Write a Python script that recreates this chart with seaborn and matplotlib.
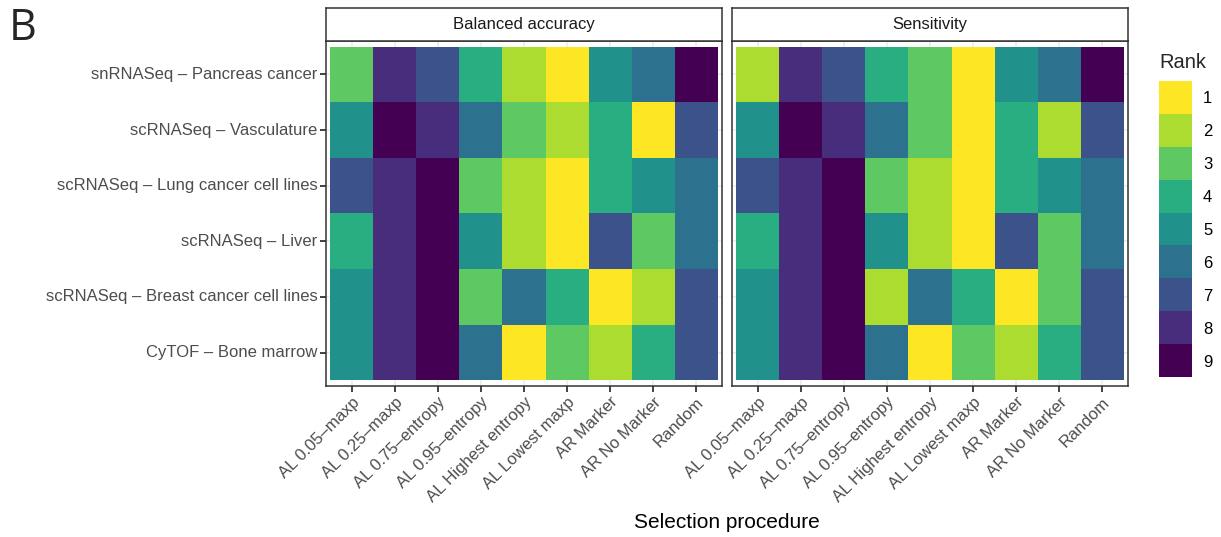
import numpy as np
import pandas as pd
import matplotlib
matplotlib.use("Agg")
import matplotlib.pyplot as plt
import seaborn as sns
from matplotlib.colors import ListedColormap

sns.set_style("white")
plt.rcParams['font.family'] = ['Liberation Sans', 'DejaVu Sans']

datasets = ["snRNASeq – Pancreas cancer", "scRNASeq – Vasculature",
            "scRNASeq – Lung cancer cell lines", "scRNASeq – Liver",
            "scRNASeq – Breast cancer cell lines", "CyTOF – Bone marrow"]
methods = ["AL 0.05–maxp", "AL 0.25–maxp", "AL 0.75–entropy", "AL 0.95–entropy",
           "AL Highest entropy", "AL Lowest maxp", "AR Marker", "AR No Marker", "Random"]

# ranks, one row per dataset (top to bottom), one column per method
rank_bal = [[3, 8, 7, 4, 2, 1, 5, 6, 9],
            [5, 9, 8, 6, 3, 2, 4, 1, 7],
            [7, 8, 9, 3, 2, 1, 4, 5, 6],
            [4, 8, 9, 5, 2, 1, 7, 3, 6],
            [5, 8, 9, 3, 6, 4, 1, 2, 7],
            [5, 8, 9, 6, 1, 3, 2, 4, 7]]
rank_sens = [[2, 8, 7, 4, 3, 1, 5, 6, 9],
             [5, 9, 8, 6, 3, 1, 4, 2, 7],
             [7, 8, 9, 3, 2, 1, 4, 5, 6],
             [4, 8, 9, 5, 2, 1, 7, 3, 6],
             [5, 8, 9, 2, 6, 4, 1, 3, 7],
             [5, 8, 9, 6, 1, 3, 2, 4, 7]]
metrics = ["Balanced accuracy", "Sensitivity"]
ranks = [1, 2, 3, 4, 5, 6, 7, 8, 9]

rows = []
for metric, mat in zip(metrics, [rank_bal, rank_sens]):
    for i, d in enumerate(datasets):
        for j, m in enumerate(methods):
            rows.append((metric, d, m, mat[i][j]))
df = pd.DataFrame(rows, columns=["metric", "dataset", "method", "rank"])

# discrete viridis, rank 1 = yellow, rank 9 = dark purple
cmap = ListedColormap(plt.get_cmap("viridis")(np.linspace(0, 1, 9))[::-1])

W, H = 1221, 537
fig = plt.figure(figsize=(W / 100, H / 100), dpi=100)

def box(l, t, r, b):
    return [l / W, 1 - b / H, (r - l) / W, (b - t) / H]

edge = "#333333"
tickc = "#4D4D4D"
fs = 12
panels = [(326, 722), (732, 1128)]
for k, metric in enumerate(metrics):
    l, r = panels[k]
    ax = fig.add_axes(box(l, 41, r, 386))
    mat = df[df.metric == metric].pivot(index="dataset", columns="method", values="rank")
    mat = mat.loc[datasets, methods]
    sns.heatmap(mat, ax=ax, cmap=cmap, vmin=0.5, vmax=9.5, cbar=False)
    ax.set_xlim(-0.1, 9.1)
    ax.set_ylim(6.1, -0.1)
    ax.set_axisbelow(True)
    ax.grid(True, color="#EBEBEB", linewidth=1.1)
    for s in ax.spines.values():
        s.set_visible(True)
        s.set_color(edge)
        s.set_linewidth(1.1)
    ax.tick_params(axis="both", bottom=True, left=(k == 0), length=4, width=1.3,
                   color=edge, labelcolor=tickc, labelsize=fs, pad=2)
    ax.set_xticklabels(methods, rotation=45, ha="right", rotation_mode="anchor")
    if k == 0:
        ax.set_yticklabels(datasets, rotation=0)
    else:
        ax.set_yticklabels([])
    ax.set_xlabel("")
    ax.set_ylabel("")
    # facet strip
    sax = fig.add_axes(box(l, 8, r, 41))
    sax.set_xticks([])
    sax.set_yticks([])
    for s in sax.spines.values():
        s.set_color(edge)
        s.set_linewidth(1.1)
    sax.text(0.5, 0.5, metric, ha="center", va="center", fontsize=fs,
             color="#1A1A1A", transform=sax.transAxes)

fig.text((326 + 1128) / 2 / W, 1 - 522 / H, "Selection procedure",
         ha="center", va="center", fontsize=15, color="black")

# legend
lax = fig.add_axes(box(1159, 81, 1192, 377))
sns.heatmap(pd.DataFrame({"Rank": ranks}, index=ranks), ax=lax, cmap=cmap,
            vmin=0.5, vmax=9.5, cbar=False, xticklabels=False)
lax.yaxis.tick_right()
lax.tick_params(axis="y", length=0, labelsize=fs, labelcolor="black", pad=8)
lax.set_yticklabels([str(r) for r in ranks], rotation=0)
lax.set_ylabel("")
fig.text(1159 / W, 1 - 62 / H, "Rank", ha="left", va="center", fontsize=14.5)

fig.text(9 / W, 1 - 29 / H, "B", ha="left", va="center", fontsize=31,
         family=["Open Sans", "DejaVu Sans"])

fig.savefig("out.png", dpi=100)
